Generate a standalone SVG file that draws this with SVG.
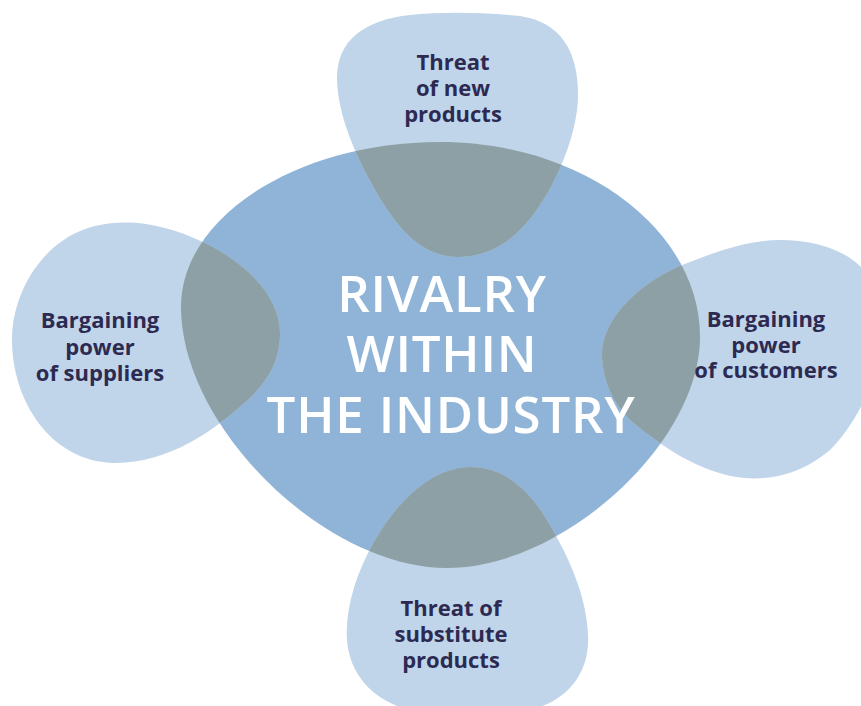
<svg xmlns="http://www.w3.org/2000/svg" width="861" height="706" viewBox="0 0 861 706">
<style>
.petal{fill:#c0d5ea}
.ov{fill:#8ca0a5}
.lbl{font-family:"Open Sans","Noto Sans","Liberation Sans",sans-serif;font-weight:bold;font-size:22px;fill:#2d2a52;text-anchor:middle}
.big{font-family:"Open Sans","Noto Sans","Liberation Sans",sans-serif;font-weight:600;font-size:51px;fill:#ffffff;text-anchor:middle;letter-spacing:0.8px}
</style>
<defs>
<path id="ell" d="M 440 142 C 583 142 700 230 700 337 C 700 443 563 568 447 568 C 325 568 181 427 181 307 C 181 216 298 142 440 142 Z"/>
<clipPath id="ellClip"><use href="#ell"/></clipPath>
<path id="pTop" d="M 458 257 C 420 257 395 225 375 190 C 355 155 338 115 337 80 C 336 40 365 20 410 15 C 440 12 480 12 520 16 C 560 22 578 50 578 95 C 578 130 560 175 540 205 C 520 235 495 257 458 257 Z"/>
<path id="pLeft" d="M 280 337 C 282 300 250 265 205 243 C 165 224 130 218 95 226 C 45 238 12 290 12 340 C 12 400 50 462 115 463 C 170 463 215 430 250 398 C 270 378 279 360 280 337 Z"/>
<path id="pRight" d="M 602 357 C 600 320 640 280 690 262 C 720 250 750 240 780 240 C 830 240 870 260 880 300 C 890 360 860 420 830 450 C 800 475 770 480 745 478 C 700 474 660 445 630 420 C 612 402 603 380 602 357 Z"/>
<path id="pBottom" d="M 470 467 C 430 467 395 505 375 540 C 355 575 345 610 347 640 C 350 680 380 706 420 712 L 520 712 C 565 705 590 675 588 635 C 586 595 570 560 550 525 C 530 490 505 467 470 467 Z"/>
</defs>
<rect width="861" height="706" fill="#ffffff"/>
<g id="rivalry">
<use href="#ell" fill="#90b4d8"/>
</g>
<g id="new-products">
<use href="#pTop" class="petal"/>
<use href="#pTop" class="ov" clip-path="url(#ellClip)"/>
<text class="lbl"><tspan x="453" y="70">Threat</tspan><tspan x="453" y="96">of new</tspan><tspan x="453" y="122">products</tspan></text>
</g>
<g id="suppliers">
<use href="#pLeft" class="petal"/>
<use href="#pLeft" class="ov" clip-path="url(#ellClip)"/>
<text class="lbl"><tspan x="100" y="328">Bargaining</tspan><tspan x="100" y="355">power</tspan><tspan x="100" y="381">of suppliers</tspan></text>
</g>
<g id="customers">
<use href="#pRight" class="petal"/>
<use href="#pRight" class="ov" clip-path="url(#ellClip)"/>
<text class="lbl"><tspan x="766" y="327">Bargaining</tspan><tspan x="766" y="353">power</tspan><tspan x="766" y="378">of customers</tspan></text>
</g>
<g id="substitutes">
<use href="#pBottom" class="petal"/>
<use href="#pBottom" class="ov" clip-path="url(#ellClip)"/>
<text class="lbl"><tspan x="451" y="616">Threat of</tspan><tspan x="451" y="642">substitute</tspan><tspan x="451" y="668">products</tspan></text>
</g>
<g id="center-label">
<text class="big"><tspan x="442" y="312">RIVALRY</tspan><tspan x="442" y="372">WITHIN</tspan><tspan x="451" y="433">THE INDUSTRY</tspan></text>
</g>
<g id="connectors"/>
</svg>
